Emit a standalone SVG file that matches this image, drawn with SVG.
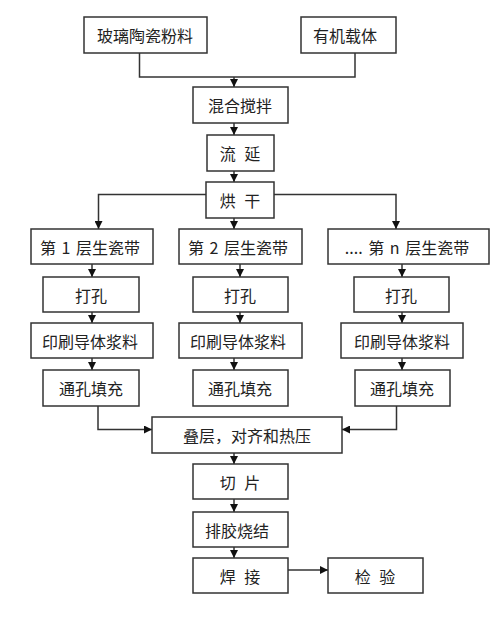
<svg xmlns="http://www.w3.org/2000/svg" width="500" height="627" viewBox="0 0 500 627">
<defs>
<marker id="ah" viewBox="0 0 10 10" refX="10" refY="5" markerWidth="8" markerHeight="8" markerUnits="userSpaceOnUse" orient="auto">
<path d="M0,0 L10,5 L0,10 Z" fill="#111"/>
</marker>
<style>
.box{fill:#fff;stroke:#333;stroke-width:1.5}
.t{font-family:"Noto Sans CJK SC","Noto Sans",sans-serif;font-size:16px;fill:#222;text-anchor:middle;dominant-baseline:central;word-spacing:5px}
.ly{word-spacing:2px}
.c{fill:none;stroke:#333;stroke-width:1.5}
.a{fill:none;stroke:#333;stroke-width:1.5;marker-end:url(#ah)}
</style>
</defs>
<rect width="500" height="627" fill="#fff"/>
<g id="connectors">
<path class="c" d="M139.5,53 V77 H355 V53"/>
<path class="a" d="M234,77 V87"/>
<path class="a" d="M234,123 V135"/>
<path class="a" d="M234,171 V182"/>
<path class="a" d="M206,194.5 H98.5 V229"/>
<path class="a" d="M274,194.5 H396 V229"/>
<path class="a" d="M234,218 V229"/>
<path class="a" d="M92,264 V277"/>
<path class="a" d="M240,264 V277"/>
<path class="a" d="M402,264 V277"/>
<path class="a" d="M92,312 V323"/>
<path class="a" d="M240,312 V323"/>
<path class="a" d="M402,312 V323"/>
<path class="a" d="M92,358 V370"/>
<path class="a" d="M234,358 V370"/>
<path class="a" d="M402,358 V370"/>
<path class="a" d="M98,406 V429.5 H152"/>
<path class="a" d="M396.5,406 V429.5 H342"/>
<path class="a" d="M234,453 V464"/>
<path class="a" d="M234,499 V512"/>
<path class="a" d="M234,547 V558"/>
<path class="a" d="M288,570 H328"/>
</g>
<g id="n_glass"><rect class="box" x="84" y="17" width="123" height="36"/><text class="t" x="145" y="35">玻璃陶瓷粉料</text></g>
<g id="n_organic"><rect class="box" x="301" y="17" width="95" height="36"/><text class="t" x="345" y="35">有机载体</text></g>
<g id="n_mix"><rect class="box" x="193" y="87" width="95" height="36"/><text class="t" x="240" y="105">混合搅拌</text></g>
<g id="n_cast"><rect class="box" x="207" y="135" width="67" height="36"/><text class="t" x="240" y="153">流 延</text></g>
<g id="n_dry"><rect class="box" x="206" y="182" width="68" height="36"/><text class="t" x="240" y="200">烘 干</text></g>
<g id="n_l1"><rect class="box" x="31" y="229" width="122" height="35"/><text class="t ly" x="90" y="246.5">第 1 层生瓷带</text></g>
<g id="n_l2"><rect class="box" x="179" y="229" width="123" height="35"/><text class="t ly" x="238" y="246.5">第 2 层生瓷带</text></g>
<g id="n_ln"><rect class="box" x="328" y="229" width="161" height="35"/><text class="t ly" x="407" y="246.5">.... 第 n 层生瓷带</text></g>
<g id="n_p1"><rect class="box" x="43" y="277" width="96" height="35"/><text class="t" x="91" y="294.5">打孔</text></g>
<g id="n_p2"><rect class="box" x="193" y="277" width="95" height="35"/><text class="t" x="240" y="294.5">打孔</text></g>
<g id="n_pn"><rect class="box" x="354" y="277" width="95" height="35"/><text class="t" x="401" y="294.5">打孔</text></g>
<g id="n_r1"><rect class="box" x="31" y="323" width="122" height="35"/><text class="t" x="90" y="340.5">印刷导体浆料</text></g>
<g id="n_r2"><rect class="box" x="179" y="323" width="123" height="35"/><text class="t" x="238" y="340.5">印刷导体浆料</text></g>
<g id="n_rn"><rect class="box" x="341" y="323" width="122" height="35"/><text class="t" x="402" y="340.5">印刷导体浆料</text></g>
<g id="n_v1"><rect class="box" x="43" y="370" width="96" height="36"/><text class="t" x="91" y="388">通孔填充</text></g>
<g id="n_v2"><rect class="box" x="193" y="370" width="95" height="36"/><text class="t" x="240" y="388">通孔填充</text></g>
<g id="n_vn"><rect class="box" x="355" y="370" width="95" height="36"/><text class="t" x="402" y="388">通孔填充</text></g>
<g id="n_stack"><rect class="box" x="152" y="417" width="190" height="36"/><text class="t" x="247" y="435">叠层，对齐和热压</text></g>
<g id="n_cut"><rect class="box" x="193" y="464" width="95" height="35"/><text class="t" x="240" y="481.5">切 片</text></g>
<g id="n_fire"><rect class="box" x="193" y="512" width="95" height="35"/><text class="t" x="237" y="529.5">排胶烧结</text></g>
<g id="n_weld"><rect class="box" x="193" y="558" width="95" height="35"/><text class="t" x="240" y="575.5">焊 接</text></g>
<g id="n_check"><rect class="box" x="328" y="558" width="95" height="35"/><text class="t" x="375" y="575.5">检 验</text></g>
</svg>
